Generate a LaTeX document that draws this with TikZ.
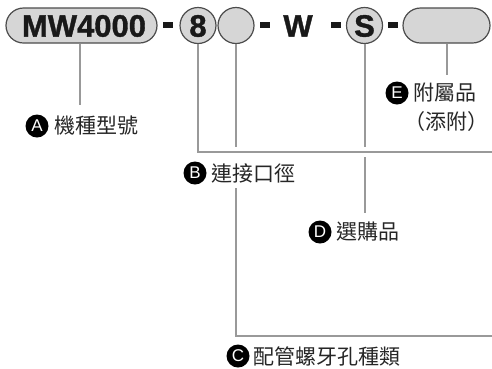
\documentclass[tikz,border=0pt]{standalone}
\usepackage{fontspec}
\setmainfont{Liberation Sans}
\newfontfamily\heavy[FakeBold=1.2]{Liberation Sans Bold}
\newfontfamily\cjk{Noto Sans CJK TC}
\begin{document}
\begin{tikzpicture}[x=1pt,y=-1pt,
  pill/.style={draw=black!70, line width=1.2pt, fill=black!16, rounded corners=17.5pt,
    minimum height=35pt, inner sep=0pt},
  part/.style={draw=black!70, line width=1.2pt, fill=black!16, circle, minimum size=36pt, inner sep=0pt},
  big/.style={font=\heavy\fontsize{31}{31}\selectfont, text=black!90, inner sep=0pt},
  dashbar/.style={fill=black!90, minimum width=10pt, minimum height=5.5pt, inner sep=0pt},
  conn/.style={draw=black!40, line width=2.2pt},
  badge/.style={circle, fill=black, text=white, minimum size=23pt, inner sep=0pt,
    font=\fontsize{17}{17}\selectfont},
  lbl/.style={font=\cjk\fontsize{21}{21}\selectfont, text=black!85, inner sep=0pt}]
\useasboundingbox (0,0) rectangle (492,368);
% top row
\node[pill, minimum width=151pt] (mw) at (81.5,25.5) {};
\node[big] (mwt) at (84,26) {MW4000};
\node[dashbar] (d1) at (168,25) {};
\node[part] (c8) at (198,25.5) {};
\node[big] (c8t) at (198,26) {8};
\node[part] (cb) at (236,25.5) {};
\node[dashbar] (d2) at (265,25) {};
\node[big] (w) at (298,26) {W};
\node[dashbar] (d3) at (336,25) {};
\node[part] (cs) at (364.5,25.5) {};
\node[big] (cst) at (364.5,26) {S};
\node[dashbar] (d4) at (393,25) {};
\node[pill, minimum width=87pt] (pe) at (446.5,25.5) {};
% labels
\node[badge] (bA) at (37,126) {A};
\node[lbl, anchor=west] (tA) at (54,126) {機種型號};
\node[badge] (bB) at (195,173) {B};
\node[lbl, anchor=west] (tB) at (211,173) {連接口徑};
\node[badge] (bC) at (238,356) {C};
\node[lbl, anchor=west] (tC) at (253,356) {配管螺牙孔種類};
\node[badge] (bD) at (320,232) {D};
\node[lbl, anchor=west] (tD) at (336,232) {選購品};
\node[badge] (bE) at (397,93) {E};
\node[lbl, anchor=west] (tE) at (413,93) {附屬品};
\node[lbl] (tE2) at (446,122) {（添附）};
% connector coordinates
\coordinate (a1) at (80,105);
\coordinate (b1) at (198,152);
\coordinate (b2) at (492,152);
\coordinate (cg1) at (236,147);
\coordinate (cg2) at (236,188);
\coordinate (c2) at (236,336);
\coordinate (c3) at (492,336);
\coordinate (s1) at (365,147);
\coordinate (s2) at (365,157);
\coordinate (s3) at (365,213);
\coordinate (e1) at (447,75);
% connectors
\draw[conn] (mw.south -| a1) -- (a1);
\draw[conn] (c8.south) -- (b1) -- (b2);
\draw[conn] (cb.south) -- (cg1);
\draw[conn] (cg2) -- (c2) -- (c3);
\draw[conn] (cs.south -| s1) -- (s1);
\draw[conn] (s2) -- (s3);
\draw[conn] (pe.south -| e1) -- (e1);
\end{tikzpicture}
\end{document}
